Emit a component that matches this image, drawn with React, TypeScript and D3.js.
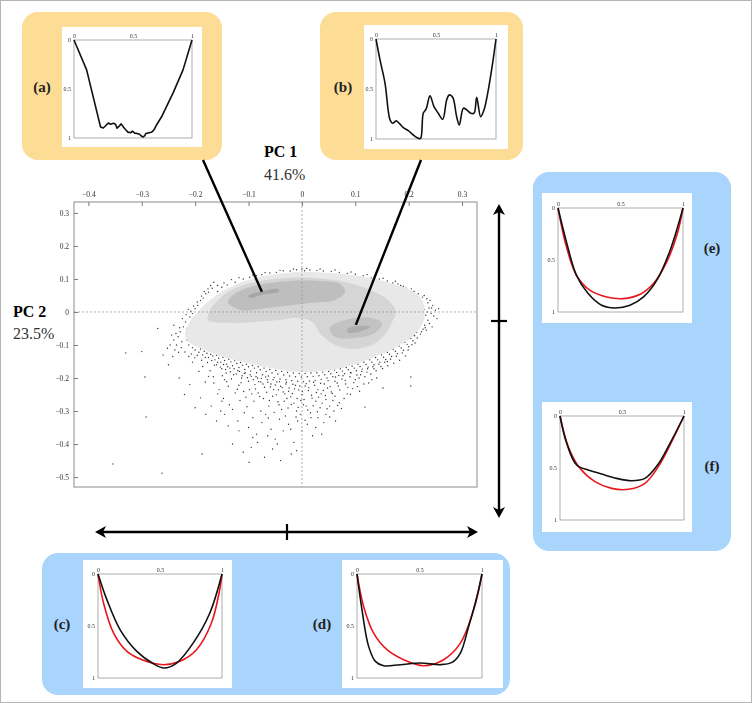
import { useEffect, useRef } from "react";
import * as d3 from "d3";

// PCA scores, axis ticks
const xTicks = [-0.4, -0.3, -0.2, -0.1, 0, 0.1, 0.2, 0.3];
const yTicks = [0.3, 0.2, 0.1, 0, -0.1, -0.2, -0.3, -0.4, -0.5];
const profileTicks = [0, 0.5, 1];

// density contours (outer to inner)
const level1 = [[-0.219, -0.07], [-0.21, -0.03], [-0.195, 0], [-0.172, 0.036], [-0.144, 0.067], [-0.107, 0.094], [-0.06, 0.112], [0, 0.121], [0.052, 0.118], [0.109, 0.109], [0.165, 0.088], [0.202, 0.067], [0.225, 0.036], [0.23, 0], [0.225, -0.039], [0.206, -0.076], [0.174, -0.109], [0.14, -0.133], [0.099, -0.158], [0.052, -0.176], [-0.004, -0.182], [-0.06, -0.17], [-0.107, -0.152], [-0.154, -0.133], [-0.182, -0.115], [-0.21, -0.094]];
const level2 = [[-0.176, -0.024], [-0.172, 0.006], [-0.157, 0.036], [-0.131, 0.067], [-0.088, 0.091], [-0.032, 0.103], [0.024, 0.103], [0.081, 0.091], [0.127, 0.067], [0.161, 0.036], [0.176, 0], [0.169, -0.03], [0.155, -0.07], [0.131, -0.1], [0.094, -0.112], [0.062, -0.1], [0.037, -0.07], [0.019, -0.03], [-0.004, -0.018], [-0.041, -0.024], [-0.088, -0.03], [-0.135, -0.033]];
const level3a = [[-0.139, 0.03], [-0.12, 0.061], [-0.082, 0.082], [-0.022, 0.094], [0.034, 0.094], [0.071, 0.085], [0.081, 0.061], [0.062, 0.036], [0.015, 0.027], [-0.032, 0.018], [-0.079, 0.009], [-0.116, 0.006]];
const level3b = [[0.052, -0.048], [0.081, -0.024], [0.127, -0.018], [0.15, -0.033], [0.137, -0.064], [0.099, -0.079], [0.062, -0.076]];
const level4a = [[-0.1, 0.049], [-0.075, 0.062], [-0.045, 0.069], [-0.043, 0.062], [-0.072, 0.053], [-0.098, 0.043]];
const level4b = [[0.085, -0.052], [0.11, -0.042], [0.128, -0.045], [0.108, -0.06], [0.086, -0.062]];

// individual scores outside the contours
const edgePoints = [[-0.215,-0.085],[-0.212,-0.1],[-0.205,-0.108],[-0.2,-0.115],[-0.198,-0.098],[-0.193,-0.122],[-0.19,-0.112],[-0.186,-0.13],[-0.183,-0.119],[-0.178,-0.125],[-0.175,-0.138],[-0.171,-0.128],[-0.167,-0.133],[-0.163,-0.145],[-0.16,-0.131],[-0.156,-0.14],[-0.152,-0.152],[-0.148,-0.137],[-0.145,-0.147],[-0.141,-0.158],[-0.137,-0.143],[-0.133,-0.151],[-0.13,-0.163],[-0.126,-0.148],[-0.122,-0.156],[-0.118,-0.168],[-0.115,-0.153],[-0.111,-0.161],[-0.107,-0.174],[-0.104,-0.158],[-0.1,-0.166],[-0.096,-0.179],[-0.093,-0.162],[-0.089,-0.17],[-0.085,-0.184],[-0.082,-0.166],[-0.078,-0.175],[-0.074,-0.19],[-0.071,-0.17],[-0.067,-0.18],[-0.063,-0.194],[-0.06,-0.174],[-0.056,-0.185],[-0.052,-0.198],[-0.049,-0.177],[-0.045,-0.188],[-0.041,-0.203],[-0.038,-0.18],[-0.034,-0.191],[-0.03,-0.205],[-0.027,-0.183],[-0.023,-0.194],[-0.019,-0.208],[-0.016,-0.185],[-0.012,-0.196],[-0.008,-0.21],[-0.005,-0.186],[-0.001,-0.197],[0.003,-0.211],[0.006,-0.186],[0.01,-0.196],[0.014,-0.209],[0.017,-0.185],[0.021,-0.195],[0.025,-0.207],[0.028,-0.184],[0.032,-0.193],[0.036,-0.204],[0.039,-0.182],[0.043,-0.19],[0.047,-0.2],[0.05,-0.18],[0.054,-0.187],[0.058,-0.196],[0.061,-0.176],[0.065,-0.183],[0.069,-0.192],[0.072,-0.172],[0.076,-0.179],[0.08,-0.187],[0.083,-0.168],[0.087,-0.175],[0.091,-0.183],[0.094,-0.164],[0.098,-0.17],[0.102,-0.178],[0.105,-0.158],[0.109,-0.165],[0.113,-0.173],[0.116,-0.152],[0.12,-0.159],[0.124,-0.167],[0.127,-0.145],[0.131,-0.152],[0.135,-0.16],[0.138,-0.138],[0.142,-0.145],[0.146,-0.152],[0.149,-0.13],[0.153,-0.137],[0.157,-0.144],[0.16,-0.122],[0.164,-0.128],[0.168,-0.135],[0.171,-0.113],[0.175,-0.119],[0.179,-0.126],[0.182,-0.103],[0.186,-0.109],[0.19,-0.116],[0.193,-0.092],[0.197,-0.098],[0.2,-0.105],[0.204,-0.08],[0.208,-0.087],[0.211,-0.072],[0.215,-0.062],[0.218,-0.05],[0.221,-0.04],
  [-0.226,-0.108],[-0.219,-0.121],[-0.207,-0.127],[-0.201,-0.139],[-0.196,-0.131],[-0.188,-0.146],[-0.181,-0.138],[-0.177,-0.153],[-0.169,-0.147],[-0.164,-0.161],[-0.158,-0.152],[-0.153,-0.167],[-0.147,-0.159],[-0.143,-0.174],[-0.139,-0.166],[-0.134,-0.181],[-0.127,-0.172],[-0.123,-0.188],[-0.117,-0.18],[-0.112,-0.193],[-0.106,-0.184],[-0.102,-0.199],[-0.097,-0.19],[-0.091,-0.205],[-0.086,-0.196],[-0.081,-0.211],[-0.076,-0.201],[-0.073,-0.218],[-0.068,-0.197],[-0.064,-0.213],[-0.059,-0.227],[-0.054,-0.205],[-0.05,-0.221],[-0.044,-0.236],[-0.042,-0.211],[-0.037,-0.229],[-0.032,-0.248],[-0.029,-0.213],[-0.025,-0.24],[-0.021,-0.257],[-0.017,-0.219],[-0.014,-0.233],[-0.009,-0.262],[-0.004,-0.224],[0.001,-0.241],[0.004,-0.265],[0.008,-0.217],[0.013,-0.229],[0.019,-0.261],[0.022,-0.213],[0.027,-0.244],[0.031,-0.258],[0.035,-0.216],[0.04,-0.238],[0.044,-0.253],[0.049,-0.208],[0.053,-0.226],[0.057,-0.247],[0.063,-0.197],[0.066,-0.215],[0.071,-0.236],[0.077,-0.193],[0.081,-0.207],[0.086,-0.229],[0.092,-0.185],[0.097,-0.214],[0.103,-0.191],[0.107,-0.2],[0.112,-0.18],[0.118,-0.196],[0.123,-0.172],[0.129,-0.188],[0.133,-0.166],[0.139,-0.178],[0.144,-0.158],[0.151,-0.171],[0.155,-0.152],[0.161,-0.163],[0.166,-0.143],[0.172,-0.155],[0.177,-0.134],[0.183,-0.146],[0.188,-0.124],[0.194,-0.133],[0.199,-0.115],[0.206,-0.099],[0.212,-0.094],[0.216,-0.079],[0.222,-0.067],[0.227,-0.052]];
const cloudPoints = [[-0.16,-0.16],[-0.15,-0.172],[-0.142,-0.185],[-0.135,-0.17],[-0.128,-0.19],[-0.12,-0.178],[-0.113,-0.2],[-0.108,-0.186],[-0.1,-0.21],[-0.095,-0.195],[-0.088,-0.22],[-0.083,-0.2],[-0.077,-0.212],[-0.07,-0.228],[-0.065,-0.205],[-0.058,-0.218],[-0.053,-0.235],[-0.047,-0.212],[-0.04,-0.225],[-0.035,-0.242],[-0.03,-0.218],[-0.024,-0.23],[-0.018,-0.247],[-0.012,-0.222],[-0.006,-0.236],[0,-0.25],[0.006,-0.224],[0.012,-0.238],[0.018,-0.252],[0.024,-0.222],[0.03,-0.235],[0.036,-0.248],[0.042,-0.218],[0.048,-0.23],[0.055,-0.242],[0.062,-0.21],[0.068,-0.224],[0.075,-0.203],[0.082,-0.218],[0.09,-0.196],[0.1,-0.205],[0.11,-0.19],[0.122,-0.182],[0.135,-0.172],[0.148,-0.165],[0.16,-0.15],[-0.175,-0.195],[-0.165,-0.215],[-0.155,-0.235],[-0.145,-0.205],[-0.138,-0.225],[-0.125,-0.245],[-0.118,-0.222],[-0.105,-0.258],[-0.098,-0.235],[-0.09,-0.27],[-0.082,-0.245],[-0.072,-0.262],[-0.062,-0.285],[-0.055,-0.255],[-0.045,-0.272],[-0.038,-0.295],[-0.028,-0.262],[-0.02,-0.28],[-0.01,-0.3],[-0.002,-0.268],[0.008,-0.285],[0.016,-0.305],[0.026,-0.27],[0.034,-0.29],[0.045,-0.265],[0.052,-0.285],[0.062,-0.255],[0.07,-0.275],[0.085,-0.248],[0.095,-0.232],[0.108,-0.24],[0.125,-0.215],[0.14,-0.2],
  [-0.172,-0.178],[-0.166,-0.196],[-0.149,-0.193],[-0.141,-0.211],[-0.132,-0.203],[-0.121,-0.234],[-0.114,-0.214],[-0.109,-0.241],[-0.094,-0.248],[-0.087,-0.233],[-0.079,-0.256],[-0.066,-0.243],[-0.061,-0.268],[-0.048,-0.251],[-0.043,-0.281],[-0.033,-0.27],[-0.026,-0.291],[-0.015,-0.276],[-0.007,-0.289],[0.003,-0.281],[0.011,-0.297],[0.021,-0.284],[0.029,-0.302],[0.038,-0.276],[0.047,-0.293],[0.058,-0.268],[0.067,-0.283],[0.079,-0.262],[0.091,-0.249],[0.104,-0.226],[0.116,-0.218],[0.131,-0.205],[-0.186,-0.165],[-0.193,-0.18],[-0.205,-0.152],[-0.212,-0.135],[-0.231,-0.122],[-0.181,-0.212],[-0.158,-0.248],[-0.147,-0.262],[-0.136,-0.281],[-0.116,-0.268],[-0.103,-0.287],[-0.077,-0.3],[-0.063,-0.321],[-0.052,-0.304],[-0.031,-0.315],[-0.021,-0.355],[-0.011,-0.318],[0.006,-0.328],[0.017,-0.32],[0.026,-0.35],[0.041,-0.335],[0.052,-0.318],[0.074,-0.292],[-0.083,-0.395],[-0.064,-0.375],[-0.046,-0.4],[-0.118,-0.36],[-0.138,-0.345],[-0.152,-0.3],[-0.092,-0.38],[0.063,-0.33],[-0.003,-0.31],[-0.01,-0.42]];
const tailPoints = [[-0.19,-0.26],[-0.17,-0.285],[-0.15,-0.27],[-0.145,-0.31],[-0.13,-0.295],[-0.12,-0.33],[-0.108,-0.305],[-0.1,-0.35],[-0.092,-0.32],[-0.085,-0.37],[-0.075,-0.335],[-0.068,-0.31],[-0.058,-0.355],[-0.05,-0.385],[-0.042,-0.325],[-0.035,-0.36],[-0.025,-0.34],[-0.015,-0.395],[-0.008,-0.33],[0,-0.36],[0.01,-0.34],[0.02,-0.375],[0.03,-0.32],[0.045,-0.31],[0.06,-0.3],[-0.13,-0.4],[-0.11,-0.425],[-0.095,-0.41],[-0.07,-0.44],[-0.055,-0.415],[-0.04,-0.45],[-0.02,-0.43],[-0.16,-0.33],[-0.18,-0.31],[-0.2,-0.29],[-0.21,-0.22],[-0.23,-0.2],[-0.22,-0.25],[-0.354,-0.46],[-0.262,-0.488],[-0.292,-0.318],[-0.33,-0.124],[-0.3,-0.12],[-0.294,-0.197],[-0.187,-0.43],[-0.099,-0.455],[0.037,-0.37],[0.118,-0.288],[0.204,-0.224],[0.204,-0.197],[0.152,-0.23],[-0.25,-0.16],[-0.24,-0.085],[-0.27,-0.05]];
const rimPoints = [[-0.228,-0.06],[-0.222,-0.045],[-0.232,-0.075],[-0.218,-0.03],[-0.21,-0.015],[-0.215,-0.05],[-0.205,-0.005],[-0.2,0.01],[-0.195,0.02],[-0.19,0.035],[-0.185,0.042],[-0.18,0.055],[-0.175,0.06],[-0.168,0.072],[-0.225,-0.09],[-0.235,-0.1],[-0.212,-0.065],[-0.24,-0.04],[-0.208,0.002],[-0.198,-0.02],[-0.165,0.09],[-0.158,0.062],[-0.15,0.075],[-0.14,0.082],[-0.125,0.09],[-0.11,0.1],[-0.098,0.105],[-0.085,0.11],[-0.075,0.113],[-0.06,0.118],[-0.048,0.12],[-0.035,0.125],[-0.022,0.124],[-0.01,0.128],[0,0.13],[0.005,0.125],[0.015,0.127],[0.028,0.126],[0.04,0.124],[0.055,0.123],[0.07,0.12],[0.085,0.117],[0.1,0.114],[0.115,0.11],[0.13,0.103],[0.145,0.1],[0.16,0.094],[0.17,0.088],[0.18,0.085],[0.19,0.078],[0.195,0.072],[0.205,0.07],[0.21,0.062],[0.198,0.065],[0.185,0.08],[0.215,0.05],[0.22,0.042],[0.225,0.03],[0.228,0.02],[0.23,0.008],[0.235,0],[0.232,-0.01],[0.228,-0.02],[0.225,-0.03],[0.238,0.012],[0.242,-0.005],[0.236,-0.025],[0.22,-0.045],[0.214,-0.058],[0.245,0.02],[0.24,0.035],[0.25,0.005],[0.23,-0.04],[0.218,0.055],[0.226,0.045],[0.233,-0.055],[0.21,-0.07],
  [-0.236,-0.065],[-0.229,-0.048],[-0.224,-0.02],[-0.217,-0.008],[-0.213,0.008],[-0.203,0.018],[-0.196,0.03],[-0.188,0.048],[-0.183,0.062],[-0.176,0.07],[-0.171,0.08],[-0.244,-0.07],[-0.247,-0.1],[-0.238,-0.115],[-0.252,-0.11],[-0.26,-0.13],[-0.242,-0.135],[-0.158,0.08],[-0.146,0.088],[-0.132,0.098],[-0.118,0.104],[-0.092,0.112],[-0.069,0.119],[-0.041,0.126],[-0.016,0.13],[0.009,0.132],[0.034,0.13],[0.062,0.127],[0.092,0.121],[0.122,0.113],[0.152,0.102],[0.175,0.093],[0.182,0.075],[0.193,0.068],[0.2,0.058],[0.207,0.052],[0.188,0.07],[0.236,0.028],[0.243,0.012],[0.247,-0.012],[0.239,-0.035],[0.231,-0.048],[0.224,-0.06],[0.219,0.035],[0.226,0.01],[0.253,-0.02],[0.256,0.01],[0.244,-0.045],[0.229,0.05],[0.234,0.04]];

// points the callouts (a) and (b) refer to
const calloutA = [-0.075, 0.061];
const calloutB = [0.101, -0.039];

// normalised profiles, [position, depth]
const profileA = [[0,0],[0.107,0.305],[0.225,0.888],[0.248,0.898],[0.26,0.885],[0.29,0.847],[0.31,0.86],[0.333,0.85],[0.352,0.86],[0.365,0.9],[0.385,0.876],[0.4,0.856],[0.42,0.89],[0.438,0.915],[0.457,0.94],[0.48,0.947],[0.495,0.93],[0.515,0.95],[0.535,0.955],[0.555,0.962],[0.57,0.98],[0.586,0.99],[0.6,0.975],[0.608,0.955],[0.628,0.948],[0.656,0.942],[0.676,0.92],[0.698,0.87],[0.741,0.786],[0.839,0.542],[0.924,0.305],[1,0]];
const profileB = [[0,0],[0.033,0.207],[0.075,0.441],[0.117,0.809],[0.139,0.843],[0.167,0.819],[0.194,0.843],[0.228,0.886],[0.269,0.916],[0.311,0.96],[0.353,0.993],[0.372,0.993],[0.394,0.742],[0.417,0.702],[0.45,0.569],[0.483,0.676],[0.519,0.742],[0.556,0.803],[0.589,0.609],[0.611,0.559],[0.639,0.582],[0.672,0.776],[0.694,0.86],[0.728,0.692],[0.756,0.709],[0.789,0.742],[0.817,0.742],[0.839,0.582],[0.872,0.776],[0.9,0.709],[0.936,0.508],[0.972,0.241],[1,0]];
const profileCBlack = [[0,0],[0.072,0.249],[0.179,0.537],[0.313,0.744],[0.447,0.863],[0.532,0.904],[0.634,0.856],[0.767,0.665],[0.901,0.377],[1,0]];
const profileCRed = [[0,0],[0.045,0.281],[0.126,0.569],[0.233,0.744],[0.366,0.83],[0.527,0.872],[0.66,0.84],[0.794,0.728],[0.914,0.473],[0.981,0.153],[1,0]];
const profileDBlack = [[0,0],[0.04,0.345],[0.093,0.696],[0.147,0.84],[0.213,0.882],[0.347,0.872],[0.507,0.856],[0.667,0.872],[0.76,0.85],[0.827,0.76],[0.893,0.505],[0.96,0.217],[1,0]];
const profileDRed = [[0,0],[0.053,0.313],[0.133,0.569],[0.24,0.728],[0.373,0.824],[0.533,0.882],[0.693,0.824],[0.827,0.665],[0.933,0.345],[1,0]];
const profileEBlack = [[0,0],[0.067,0.323],[0.147,0.645],[0.241,0.823],[0.349,0.935],[0.456,0.961],[0.576,0.935],[0.684,0.855],[0.791,0.694],[0.898,0.403],[1,0]];
const profileERed = [[0,0],[0.067,0.371],[0.147,0.645],[0.255,0.79],[0.389,0.855],[0.523,0.871],[0.657,0.829],[0.764,0.726],[0.871,0.516],[0.952,0.258],[1,0]];
const profileFBlack = [[0,0],[0.054,0.263],[0.134,0.471],[0.228,0.519],[0.336,0.558],[0.457,0.6],[0.578,0.622],[0.685,0.6],[0.793,0.462],[0.887,0.263],[1,0]];
const profileFRed = [[0,0],[0.067,0.295],[0.161,0.503],[0.282,0.631],[0.417,0.696],[0.551,0.705],[0.685,0.647],[0.793,0.487],[0.901,0.247],[1,0]];

const serif = "'Liberation Serif', 'DejaVu Serif', serif";
const ORANGE = "#fddc95";
const BLUE = "#a9d4fb";

const App = () => {
  const svgRef = useRef(null);

  useEffect(() => {
    const svg = d3.select(svgRef.current);
    svg.selectAll("*").remove();

    svg.append("rect").attr("x", 0.5).attr("y", 0.5).attr("width", 751).attr("height", 702)
      .attr("fill", "#fff").attr("stroke", "#b5b5b5");

    // ---------- main scatter ----------
    const x = d3.scaleLinear().domain([-0.427, 0.328]).range([74, 477]);
    const y = d3.scaleLinear().domain([0.333, -0.53]).range([202, 487]);

    const plot = svg.append("g");
    plot.append("rect").attr("x", 74).attr("y", 202).attr("width", 403).attr("height", 285)
      .attr("fill", "#fff");

    const allPoints = [...edgePoints, ...cloudPoints, ...tailPoints, ...rimPoints];
    plot.append("g").selectAll("circle").data(allPoints).enter().append("circle")
      .attr("cx", (d) => x(d[0])).attr("cy", (d) => y(d[1])).attr("r", 0.7)
      .attr("fill", "#333");

    const blob = d3.line().x((d) => x(d[0])).y((d) => y(d[1])).curve(d3.curveCatmullRomClosed);
    const levels = [
      [level1, "#e8e8e8"],
      [level2, "#d5d5d5"],
      [level3a, "#bebebe"],
      [level3b, "#c2c2c2"],
      [level4a, "#a6a6a6"],
      [level4b, "#adadad"],
    ];
    levels.forEach(([pts, col]) => {
      plot.append("path").attr("d", blob(pts)).attr("fill", col);
    });

    // zero lines
    plot.append("line").attr("x1", x(0)).attr("x2", x(0)).attr("y1", 202).attr("y2", 487)
      .attr("stroke", "#999").attr("stroke-dasharray", "2,2").attr("stroke-width", 0.8);
    plot.append("line").attr("x1", 74).attr("x2", 477).attr("y1", y(0)).attr("y2", y(0))
      .attr("stroke", "#999").attr("stroke-dasharray", "2,2").attr("stroke-width", 0.8);

    plot.append("rect").attr("x", 74).attr("y", 202).attr("width", 403).attr("height", 285)
      .attr("fill", "none").attr("stroke", "#8c8c8c").attr("stroke-width", 1);

    const fmt = d3.format("");
    const xAxis = plot.append("g").attr("transform", "translate(0,202)")
      .call(d3.axisTop(x).tickValues(xTicks).tickSize(-4).tickPadding(5).tickFormat(fmt));
    const yAxis = plot.append("g").attr("transform", "translate(74,0)")
      .call(d3.axisLeft(y).tickValues(yTicks).tickSize(-4).tickPadding(5).tickFormat(fmt));
    [xAxis, yAxis].forEach((a) => {
      a.select(".domain").remove();
      a.style("filter", "grayscale(1)");
      a.selectAll("line").attr("stroke", "#777");
      a.selectAll("text").attr("font-family", serif).attr("font-size", 7.5).attr("fill", "#333");
    });

    // axis titles
    svg.append("text").attr("x", 264).attr("y", 157).attr("font-family", serif)
      .attr("font-weight", "bold").attr("font-size", 16).text("PC 1");
    svg.append("text").attr("x", 264).attr("y", 180).attr("font-family", serif)
      .attr("font-size", 16).attr("fill", "#333").text("41.6%");
    svg.append("text").attr("x", 13).attr("y", 317).attr("font-family", serif)
      .attr("font-weight", "bold").attr("font-size", 16).text("PC 2");
    svg.append("text").attr("x", 13).attr("y", 339).attr("font-family", serif)
      .attr("font-size", 16).attr("fill", "#333").text("23.5%");

    // ---------- profile insets ----------
    const box = (x0, y0, w, h, fill) =>
      svg.append("rect").attr("x", x0).attr("y", y0).attr("width", w).attr("height", h)
        .attr("rx", 16).attr("fill", fill);

    box(22, 12, 200, 148, ORANGE);
    box(320, 12, 203, 148, ORANGE);
    box(533, 172, 198, 379, BLUE);
    box(42, 553, 468, 142, BLUE);

    const panel = (white, frame, curves, smooth) => {
      svg.append("rect").attr("x", white[0]).attr("y", white[1])
        .attr("width", white[2] - white[0]).attr("height", white[3] - white[1]).attr("fill", "#fff");
      const px = d3.scaleLinear().domain([0, 1]).range([frame[0], frame[2]]);
      const py = d3.scaleLinear().domain([0, 1]).range([frame[1], frame[3]]);
      const g = svg.append("g");
      g.append("rect").attr("x", frame[0]).attr("y", frame[1])
        .attr("width", frame[2] - frame[0]).attr("height", frame[3] - frame[1])
        .attr("fill", "none").attr("stroke", "#9a9a9a").attr("stroke-width", 0.8);
      const top = g.append("g").attr("transform", `translate(0,${frame[1]})`)
        .call(d3.axisTop(px).tickValues(profileTicks).tickSize(0).tickPadding(2).tickFormat(fmt));
      const left = g.append("g").attr("transform", `translate(${frame[0]},0)`)
        .call(d3.axisLeft(py).tickValues(profileTicks).tickSize(0).tickPadding(3).tickFormat(fmt));
      [top, left].forEach((a) => {
        a.select(".domain").remove();
        a.style("filter", "grayscale(1)");
        a.selectAll("text").attr("font-family", serif).attr("font-size", 6).attr("fill", "#333");
      });
      const line = d3.line().x((d) => px(d[0])).y((d) => py(d[1]))
        .curve(smooth ? d3.curveCatmullRom.alpha(0.5) : d3.curveLinear);
      curves.forEach(([pts, col]) => {
        g.append("path").attr("d", line(pts)).attr("fill", "none").attr("stroke", col)
          .attr("stroke-width", 1.6).attr("stroke-linejoin", "round");
      });
    };

    panel([62, 27, 202, 147], [74, 40, 192, 138], [[profileA, "#111"]], false);
    panel([364, 25, 508, 149], [376, 39, 496, 139], [[profileB, "#111"]], true);
    panel([542, 193, 692, 323], [558, 208, 683, 312], [[profileERed, "#e8161b"], [profileEBlack, "#111"]], true);
    panel([542, 402, 692, 532], [560, 416, 684, 520], [[profileFRed, "#e8161b"], [profileFBlack, "#111"]], true);
    panel([83, 560, 232, 688], [98, 574, 222, 678], [[profileCRed, "#e8161b"], [profileCBlack, "#111"]], true);
    panel([342, 560, 503, 688], [357, 574, 482, 678], [[profileDRed, "#e8161b"], [profileDBlack, "#111"]], true);

    const labels = [["(a)", 42, 92], ["(b)", 343, 92], ["(e)", 712, 253], ["(f)", 712, 471], ["(c)", 62, 629], ["(d)", 322, 629]];
    labels.forEach(([t, lx, ly]) => {
      svg.append("text").attr("x", lx).attr("y", ly).attr("text-anchor", "middle")
        .attr("font-family", serif).attr("font-weight", "bold").attr("font-size", 15)
        .attr("fill", "#222").text(t);
    });

    // callout lines
    svg.append("line").attr("x1", 203).attr("y1", 160).attr("x2", x(calloutA[0])).attr("y2", y(calloutA[1]))
      .attr("stroke", "#000").attr("stroke-width", 2.4);
    svg.append("line").attr("x1", 421).attr("y1", 160).attr("x2", x(calloutB[0])).attr("y2", y(calloutB[1]))
      .attr("stroke", "#000").attr("stroke-width", 2.4);

    // direction arrows
    const arrowHead = (tx, ty, dx, dy) => {
      const L = 11, W = 6, n = 3;
      const ox = -dy, oy = dx;
      const pts = [
        [tx, ty],
        [tx - dx * L + ox * W, ty - dy * L + oy * W],
        [tx - dx * (L - n), ty - dy * (L - n)],
        [tx - dx * L - ox * W, ty - dy * L - oy * W],
      ];
      svg.append("path").attr("d", "M" + pts.map((p) => p.join(",")).join("L") + "Z").attr("fill", "#000");
    };
    svg.append("line").attr("x1", 499).attr("x2", 499).attr("y1", 208).attr("y2", 514)
      .attr("stroke", "#000").attr("stroke-width", 2.4);
    arrowHead(499, 204, 0, -1);
    arrowHead(499, 518, 0, 1);
    svg.append("line").attr("x1", 491).attr("x2", 507).attr("y1", 321).attr("y2", 321)
      .attr("stroke", "#000").attr("stroke-width", 2.2);

    svg.append("line").attr("x1", 99).attr("x2", 474).attr("y1", 532).attr("y2", 532)
      .attr("stroke", "#000").attr("stroke-width", 2.4);
    arrowHead(95, 532, -1, 0);
    arrowHead(478, 532, 1, 0);
    svg.append("line").attr("x1", 287).attr("x2", 287).attr("y1", 524).attr("y2", 540)
      .attr("stroke", "#000").attr("stroke-width", 2.2);
  }, []);

  return (
    <div style={{ position: "absolute", left: 0, top: 0 }}>
      <svg ref={svgRef} width={752} height={703} style={{ display: "block" }}></svg>
    </div>
  );
};

export default App;
